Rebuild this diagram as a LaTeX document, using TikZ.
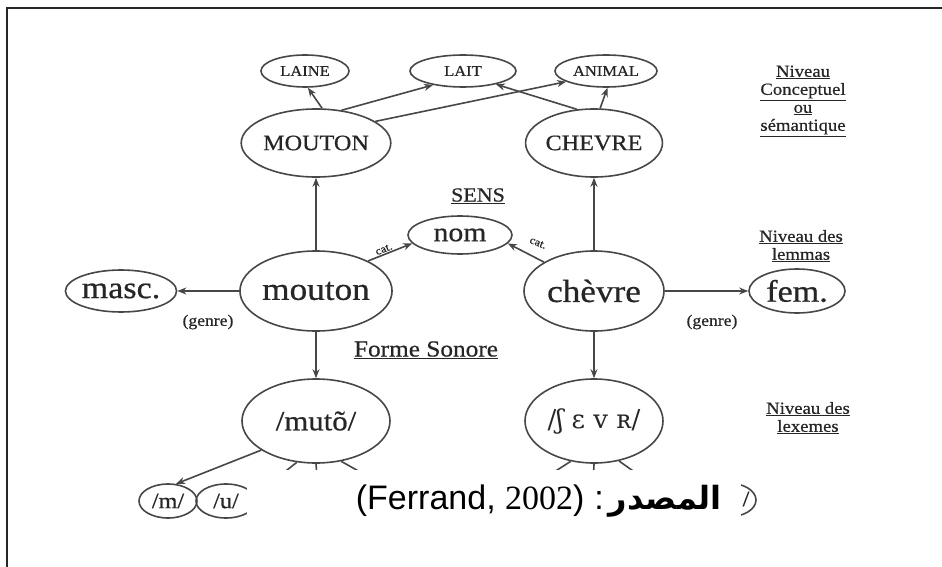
\documentclass[tikz,border=0pt]{standalone}
\usepackage{fontspec}
\setmainfont{Liberation Serif}[FakeStretch=1.1,FakeBold=0.6]
\newfontfamily\ipafont{DejaVu Serif}
\newfontfamily\capfont{Liberation Sans}
\newfontfamily\numfont{Liberation Serif}
\newfontfamily\arabicfont[Script=Arabic]{DejaVu Sans}
\TeXXeTstate=1
\usetikzlibrary{shapes.geometric,arrows.meta}
\definecolor{ink}{gray}{0.15}
\definecolor{wire}{gray}{0.28}
\newcommand{\fs}[1]{\fontsize{#1}{#1}\selectfont}
\begin{document}
\begin{tikzpicture}[x=1pt,y=-1pt,
  bub/.style={ellipse, draw=wire, line width=1.6pt, inner sep=0pt, text=ink},
  arr/.style={draw=wire, line width=1.6pt, -{Stealth[length=9pt,width=7pt]}},
  ln/.style={draw=wire, line width=1.6pt},
  lvl/.style={align=center, text=ink, font=\fs{17}, inner sep=0pt},
  ttl/.style={text=ink, inner sep=0pt},
  gen/.style={text=ink, font=\fs{16}, inner sep=0pt},
  catl/.style={text=ink, font=\fs{11}, inner sep=1pt}]
\useasboundingbox (0,0) rectangle (942,567);
\fill[white] (0,0) rectangle (942,567);
\draw[line width=2pt, black!85] (7,567) -- (7,8) -- (942,8);

% conceptual level
\node[bub, minimum width=88, minimum height=32, font=\fs{15}] (laine) at (305,71) {LAINE};
\node[bub, minimum width=106, minimum height=32, font=\fs{15}] (lait) at (463,71) {LAIT};
\node[bub, minimum width=102, minimum height=32, font=\fs{15}] (animal) at (606,71) {ANIMAL};
\node[bub, minimum width=138, minimum height=68, font=\fs{22}] (MOUTON) at (316,143) {MOUTON};
\node[bub, minimum width=134, minimum height=68, font=\fs{22}] (CHEVRE) at (594,143) {CHEVRE};

\draw[arr] (MOUTON.80) -- (laine.-80);
\draw[arr] (MOUTON.52) -- (lait.-155);
\draw[arr] (MOUTON.20) -- (animal.-165);
\draw[arr] (CHEVRE.117) -- (lait.-22);
\draw[arr] (CHEVRE.80) -- (animal.-85);

\node[lvl] (lvlA) at (803,101) {\underline{Niveau}\\[1pt]\underline{Conceptuel}\\[1pt]\underline{ou}\\[1pt]\underline{sémantique}};

% lemma level
\node[ttl, font=\fs{20}] (sens) at (478,196) {\underline{SENS}};
\node[bub, minimum width=104, minimum height=38, font=\fs{27}] (nom) at (460,235) {nom};
\node[bub, minimum width=144, minimum height=80, font=\fs{32}] (mouton) at (316,291) {mouton};
\node[bub, minimum width=140, minimum height=80, font=\fs{32}] (chevre) at (594,291) {chèvre};
\node[bub, minimum width=100, minimum height=42, font=\fs{31}] (masc) at (121,291) {masc.};
\node[bub, minimum width=96, minimum height=44, font=\fs{31}] (fem) at (797,291) {fem.};
\node[lvl] (lvlB) at (801,246) {\underline{Niveau des}\\[1pt]\underline{lemmas}};

\draw[arr] (mouton.north) -- (MOUTON.south);
\draw[arr] (chevre.north) -- (CHEVRE.south);
\draw[arr] (mouton.west) -- (masc.east);
\draw[arr] (chevre.east) -- (fem.west);
\draw[arr] (mouton.30) -- node[catl, above, sloped, pos=0.4] {cat.} (nom.-170);
\draw[arr] (chevre.150) -- (nom.-10);
\node[catl, rotate=-22] (catB) at (538,243) {cat.};
\node[gen] (genA) at (208,322) {(genre)};
\node[gen] (genB) at (712,322) {(genre)};
\node[ttl, font=\fs{23}] (forme) at (426,350) {\underline{Forme Sonore}};

% lexeme level
\node[bub, minimum width=148, minimum height=84, font=\fs{28}] (mutoL) at (316,421) {/mutõ/};
\node[bub, minimum width=138, minimum height=84, font=\ipafont\fs{26}] (chevL) at (594,421) {/ʃ ɛ v ʀ/};
\node[lvl] (lvlC) at (808,418) {\underline{Niveau des}\\[1pt]\underline{lexemes}};
\draw[arr] (mouton.south) -- (mutoL.north);
\draw[arr] (chevre.south) -- (chevL.north);

% phonemes
\node[bub, minimum width=58, minimum height=34, font=\fs{22}] (pm) at (168,501) {/m/};
\node[bub, minimum width=60, minimum height=34, font=\fs{22}] (pu) at (226,501) {/u/};
\node[bub, minimum width=56, minimum height=34] (pr) at (728,500) {};
\node[ttl, font=\fs{22}] (prs) at (746,499) {/};
\coordinate (cu) at (262,490);
\coordinate (ct) at (318,490);
\coordinate (co) at (392,490);
\coordinate (c1) at (526,490);
\coordinate (c2) at (593,490);
\coordinate (c3) at (660,490);
\draw[arr] (mutoL.-152) -- (pm.65);
\draw[ln] (mutoL.-115) -- (cu);
\draw[ln] (mutoL.-90) -- (ct);
\draw[ln] (mutoL.-58) -- (co);
\draw[ln] (chevL.-120) -- (c1);
\draw[ln] (chevL.-90) -- (c2);
\draw[ln] (chevL.-58) -- (c3);

% source line
\fill[white] (247,470) rectangle (741,531);
\node[anchor=east, inner sep=0pt] (src) at (722,501)
  {{\capfont\fs{34}(Ferrand, }{\numfont\fs{34}2002}{\capfont\fs{34})}\hspace{10pt}{\capfont\fs{34}:}\hspace{5pt}{\arabicfont\bfseries\fs{32}\beginR المصدر\endR}};
\end{tikzpicture}
\end{document}
